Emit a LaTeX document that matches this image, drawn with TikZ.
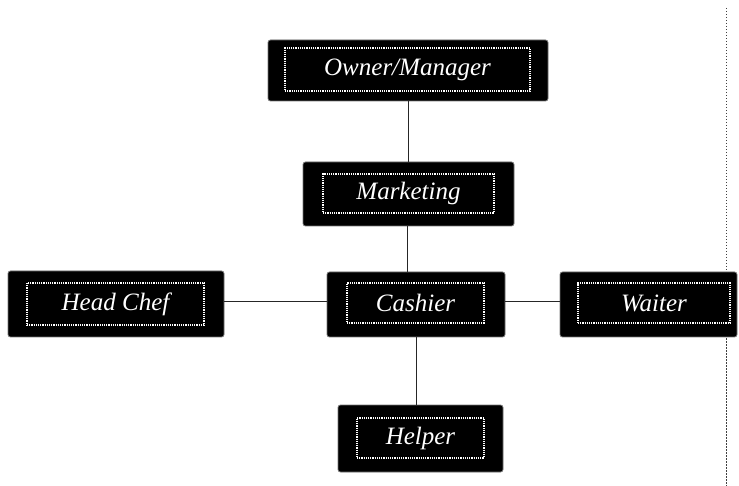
\documentclass[tikz,border=0pt]{standalone}
\usepackage{fontspec}
\setmainfont{Liberation Serif}
\begin{document}
\begin{tikzpicture}[x=1pt,y=-1pt,
  outerbox/.style={fill=black,draw=black!55,line width=0.8pt,rounded corners=2.5pt,inner sep=0pt},
  innerbox/.style={draw=white,line width=1.4pt,dash pattern=on 1.2pt off 1pt,inner sep=0pt,
     text=white,font=\fontsize{25}{27}\selectfont\itshape},
  conn/.style={line width=1pt,draw=black!85}]
\useasboundingbox (0,0) rectangle (739,486);
% vertical dotted line
\coordinate (vt) at (726.5,8);
\coordinate (vb) at (726.5,486);
\draw[black!75,line width=1pt,dash pattern=on 1.5pt off 1.5pt] (vt) -- (vb);
% boxes
\node[outerbox,minimum width=280pt,minimum height=61pt] (owner) at (408,70.5) {};
\node[innerbox,minimum width=245pt,minimum height=43pt] (ownerT) at (407.5,69.5) {Owner/Manager};
\node[outerbox,minimum width=211pt,minimum height=64pt] (mkt) at (408.5,194) {};
\node[innerbox,minimum width=171pt,minimum height=39pt] (mktT) at (408.5,193.5) {Marketing};
\node[outerbox,minimum width=216pt,minimum height=66pt] (chef) at (116,304) {};
\node[innerbox,minimum width=177pt,minimum height=42pt] (chefT) at (115.5,304) {Head Chef};
\node[outerbox,minimum width=178pt,minimum height=65pt] (cash) at (416,304.5) {};
\node[innerbox,minimum width=137pt,minimum height=40pt] (cashT) at (415.5,303) {Cashier};
\node[outerbox,minimum width=177pt,minimum height=65pt] (wait) at (648.5,304.5) {};
\node[innerbox,minimum width=152pt,minimum height=40pt] (waitT) at (654,303) {Waiter};
\node[outerbox,minimum width=165pt,minimum height=67pt] (help) at (420.5,438.5) {};
\node[innerbox,minimum width=127pt,minimum height=40pt] (helpT) at (420.5,438) {Helper};
% connectors
\draw[conn] (owner.south) -- (owner.south |- mkt.north);
\draw[conn] ([xshift=-1.5pt]mkt.south) -- ([xshift=-1.5pt]mkt.south |- cash.north);
\draw[conn] (cash.south) -- (cash.south |- help.north);
\draw[conn] ([yshift=2.5pt]chef.east) -- ([yshift=2.5pt]chef.east -| cash.west);
\draw[conn] ([yshift=2.5pt]cash.east) -- ([yshift=2.5pt]cash.east -| wait.west);
\end{tikzpicture}
\end{document}
